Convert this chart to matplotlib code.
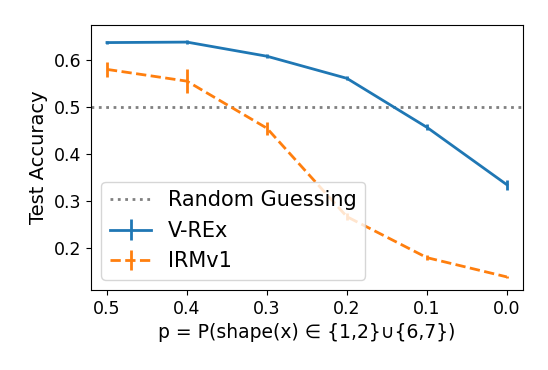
import matplotlib.pyplot as plt

p = [0.5, 0.4, 0.3, 0.2, 0.1, 0.0]
vrex_acc = [0.637, 0.638, 0.608, 0.561, 0.457, 0.335]
vrex_err = [0.004, 0.005, 0.004, 0.004, 0.006, 0.011]
irm_acc = [0.580, 0.555, 0.455, 0.267, 0.180, 0.139]
irm_err = [0.016, 0.026, 0.014, 0.008, 0.006, 0.002]

fig, ax = plt.subplots(figsize=(5.48, 3.7), dpi=100)
ax.axhline(0.5, color='gray', linestyle=':', linewidth=2, label='Random Guessing')
ax.errorbar(p, vrex_acc, yerr=vrex_err, color='C0', linewidth=2, elinewidth=2,
            label='V-REx')
ax.errorbar(p, irm_acc, yerr=irm_err, color='C1', linestyle='--', linewidth=2,
            elinewidth=2, label='IRMv1')

ax.set_xlim(0.52, -0.02)
ax.set_ylim(0.111, 0.674)
ax.set_xticks(p)
ax.set_yticks([0.2, 0.3, 0.4, 0.5, 0.6])
ax.tick_params(labelsize=12.5)
ax.set_xlabel(r'p = P(shape(x) ∈ {1,2}∪{6,7})', fontsize=13.5)
ax.set_ylabel('Test Accuracy', fontsize=14)
ax.legend(loc='lower left', fontsize=15)

fig.subplots_adjust(left=0.166, right=0.954, top=0.932, bottom=0.216)
fig.savefig('out.png')
